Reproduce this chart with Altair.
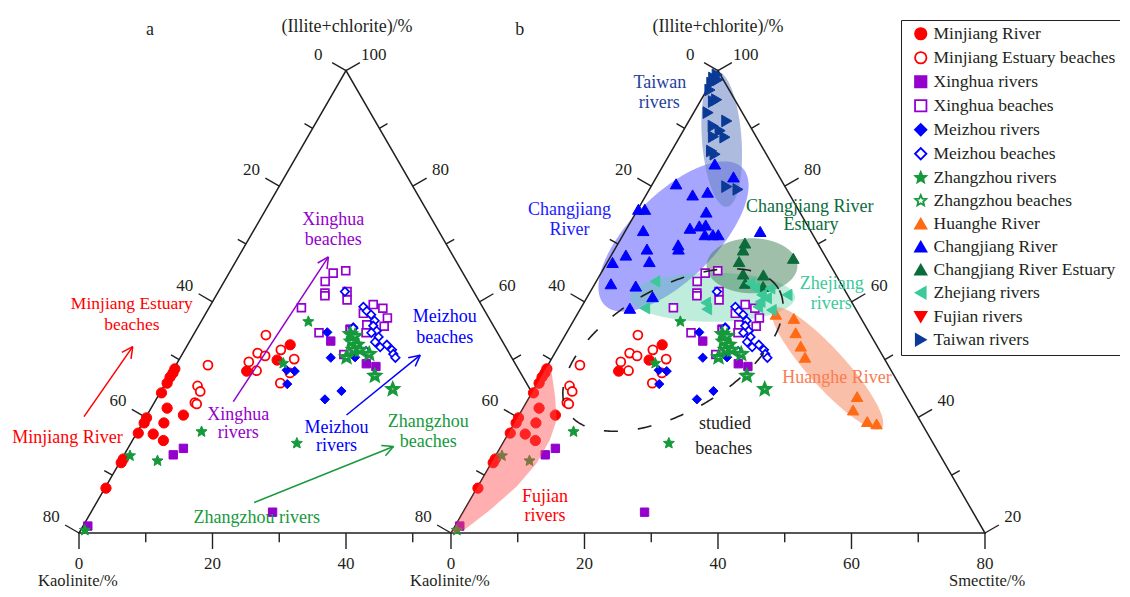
import math
import numpy as np
import pandas as pd
import altair as alt

# ------------------------------------------------------------------
# Values.
# Every sample is (illite+chlorite %, smectite %); kaolinite % = 100 - both.
# ------------------------------------------------------------------
minjiang_river = [
    (35.5, 0.2), (34.6, 0.3), (33.7, 0.2), (32.4, 0.3), (30.3, 0.3), (27.0, 3.0),
    (25.5, 6.8), (24.9, 0.2), (23.8, 0.3), (23.8, 4.0), (21.6, 0.3), (21.4, 3.2),
    (20.0, 5.8), (16.0, 0.3), (15.2, 0.3), (9.7, 0.2), (40.7, 19.2), (37.4, 18.4),
    (35.0, 13.9)]
minjiang_estuary_beaches = [
    (36.3, 6.0), (31.8, 6.3), (30.6, 7.4), (28.2, 7.6), (27.9, 8.1), (42.8, 13.6),
    (37.0, 13.3), (38.9, 14.0), (35.1, 15.7), (38.3, 15.7), (39.6, 18.0), (37.6, 21.5),
    (32.4, 21.5), (34.6, 22.2)]
xinghua_rivers = [
    (1.5, 0.9), (16.9, 9.2), (18.3, 10.4), (4.5, 34.0), (41.5, 26.4), (44.1, 28.7),
    (36.6, 35.5), (36.0, 37.6)]
xinghua_beaches = [
    (56.7, 21.6), (56.2, 19.5), (54.4, 18.9), (51.9, 20.1), (51.3, 20.4), (52.2, 24.1),
    (50.4, 25.0), (48.7, 17.3), (43.3, 23.3), (49.4, 30.4), (48.6, 32.6), (46.5, 34.5),
    (44.7, 34.8), (47.5, 29.5), (45.0, 31.4), (43.3, 32.1), (38.6, 30.3), (43.9, 28.9)]
meizhou_rivers = [
    (43.4, 24.8), (44.5, 29.1), (37.9, 28.2), (38.0, 32.7), (35.2, 21.3), (35.0, 22.9),
    (32.2, 22.9), (30.7, 33.8), (28.9, 31.6)]
meizhou_beaches = [
    (52.2, 23.7), (48.9, 28.8), (48.0, 29.9), (47.2, 31.1), (45.9, 32.4), (44.8, 32.7),
    (43.7, 33.9), (43.3, 33.1), (42.4, 34.9), (41.3, 34.8), (40.2, 36.3), (40.7, 37.3),
    (39.6, 38.8), (38.7, 39.5), (37.9, 40.3), (39.3, 34.1), (44.3, 29.2)]
zhangzhou_rivers = [
    (0.6, 0.8), (16.7, 1.2), (15.6, 6.9), (21.9, 12.0), (19.4, 31.1), (45.7, 20.1),
    (36.7, 19.9)]
zhangzhou_beaches = [
    (43.0, 29.3), (42.6, 30.4), (40.7, 31.7), (39.6, 31.6), (38.0, 31.1), (39.6, 32.8),
    (38.7, 35.0), (34.0, 38.4), (31.1, 43.2), (41.4, 30.3)]
huanghe_river = [
    (47.3, 37.2), (46.4, 41.0), (43.3, 42.9), (40.4, 45.3), (38.0, 47.3), (29.5, 61.3),
    (26.6, 62.0), (24.1, 65.9), (23.6, 67.9)]
changjiang_river = [
    (79.8, 9.5), (77.0, 14.4), (75.5, 4.4), (73.1, 8.7), (73.7, 11.2), (70.0, 0.1),
    (70.0, 1.3), (69.4, 13.1), (65.9, 11.8), (66.4, 13.3), (66.6, 14.4), (65.4, 3.3),
    (64.5, 15.3), (64.5, 16.8), (64.5, 17.8), (65.2, 25.3), (62.3, 11.4), (61.4, 11.9),
    (61.4, 6.0), (60.1, 2.7), (58.7, 7.8), (58.5, 1.0), (53.9, 3.0), (53.4, 7.9),
    (51.1, 12.2), (48.6, 9.2)]
changjiang_estuary = [
    (62.7, 23.7), (61.2, 24.1), (58.7, 24.6), (59.4, 34.4), (56.0, 26.7), (54.0, 28.1),
    (55.8, 30.6), (53.3, 31.8)]
zhejiang_rivers = [
    (54.4, 11.0), (48.6, 12.0), (49.8, 22.8), (48.4, 23.7), (54.0, 29.0), (51.5, 32.4),
    (50.8, 33.7), (50.0, 32.9), (48.2, 35.9), (51.5, 37.2), (52.9, 33.3), (48.9, 33.0),
    (53.0, 30.4)]
fujian_rivers = []
taiwan_rivers = [
    (99.1, 0.3), (98.4, 0.0), (98.0, 1.0), (97.3, 0.2), (95.8, 0.6), (93.7, 2.9),
    (93.3, 2.5), (90.9, 2.7), (89.1, 7.1), (88.0, 5.1), (87.0, 6.9), (85.7, 6.3),
    (85.6, 8.5), (82.6, 7.5), (81.9, 8.5), (74.9, 14.2), (74.3, 16.6)]

series_names = [
    "Minjiang River", "Minjiang Estuary beaches", "Xinghua rivers", "Xinghua beaches",
    "Meizhou rivers", "Meizhou beaches", "Zhangzhou rivers", "Zhangzhou beaches",
    "Huanghe River", "Changjiang River", "Changjiang River Estuary", "Zhejiang rivers",
    "Fujian rivers", "Taiwan rivers"]
series_values = [
    minjiang_river, minjiang_estuary_beaches, xinghua_rivers, xinghua_beaches,
    meizhou_rivers, meizhou_beaches, zhangzhou_rivers, zhangzhou_beaches,
    huanghe_river, changjiang_river, changjiang_estuary, zhejiang_rivers,
    fujian_rivers, taiwan_rivers]
# the Fujian coastal sets (first eight) are drawn in both panels a and b
in_both_panels = series_names[:8]

# tick labels as printed on the figure
left_side_labels = ["0", "20", "40", "60", "80"]
right_side_labels = ["100", "80", "60", "40", "20"]
bottom_labels = ["0", "20", "40", "60", "80"]

# ------------------------------------------------------------------
# Layout and style
# ------------------------------------------------------------------
FONT = "Liberation Serif"
INK = "#231f20"
H3 = math.sqrt(3) / 2
HT = 100 * H3            # triangle height (side = 100)
OFF = 69.66              # horizontal offset of panel b
PX = 5.34                # pixels per unit
W, HH = 1112, 581
x0 = (8 - 79) / PX
ytop = (533 - 8) / PX
XS = alt.Scale(domain=[x0, x0 + W / PX], nice=False, zero=False)
YS = alt.Scale(domain=[ytop - HH / PX, ytop], nice=False, zero=False)

RED, PUR, BLU, GRN = "#ff0000", "#9400cc", "#0000ff", "#16993b"
ORG, DGR, TEA, NAV = "#ff6a13", "#0b6b3b", "#3cc99a", "#0a3a96"

star_pts = []
for i in range(10):
    a = math.radians(-90 + 36 * i)
    r = 1.0 if i % 2 == 0 else 0.45
    star_pts.append(f"{r * math.cos(a):.3f},{r * math.sin(a):.3f}")
STAR = "M" + " L".join(star_pts) + " Z"

shapes = ["circle", "circle", "square", "square", "diamond", "diamond", STAR, STAR,
          "triangle-up", "triangle-up", "triangle-up", "triangle-left",
          "triangle-down", "triangle-right"]
fills = [RED, "#ffffff", PUR, "#ffffff", BLU, "#ffffff", GRN, "#ffffff",
         ORG, BLU, DGR, TEA, RED, NAV]
strokes = [RED, RED, PUR, PUR, BLU, BLU, GRN, GRN, ORG, BLU, DGR, TEA, RED, NAV]
sizes = [105, 80, 70, 62, 85, 72, 135, 105, 130, 135, 135, 125, 130, 135]
widths = [1, 1.8, 1, 1.7, 1, 1.7, 1, 3.2, 1, 1, 1, 1, 1, 1]

rows = []
for name, vals, sz, sw in zip(series_names, series_values, sizes, widths):
    offs = [0.0, OFF] if name in in_both_panels else [OFF]
    for ic, sm in vals:
        for off in offs:
            rows.append(dict(series=name, ic=ic, sm=sm, ka=round(100 - ic - sm, 1),
                             x=off + sm + ic / 2, y=ic * H3, sz=sz, sw=sw))
pts = pd.DataFrame(rows)


def X(f="x"):
    return alt.X(f"{f}:Q", scale=XS, axis=None)


def Y(f="y"):
    return alt.Y(f"{f}:Q", scale=YS, axis=None)


# ---------------- frame ----------------
t_cut = OFF / 100
frame_path = [(50 + 50 * t_cut, HT * (1 - t_cut)), (50, HT), (0, 0), (OFF + 100, 0),
              (OFF + 50, HT), (OFF, 0)]
frame_df = pd.DataFrame([dict(x=p[0], y=p[1], i=i) for i, p in enumerate(frame_path)])
frame = alt.Chart(frame_df).mark_line(color=INK, strokeWidth=1.5, strokeJoin="miter").encode(
    x=X(), y=Y(), order="i:Q")

ticks, texts = [], []
NL = (-H3, 0.5)
NR = (H3, 0.5)
for panel, off in (("a", 0.0), ("b", OFF)):
    for k in range(9):
        f = k / 8
        major = k % 2 == 0
        L = 3.0 if major else 1.75
        # left side
        bx, by = off + 50 - 50 * f, HT - HT * f
        ticks.append(dict(x=bx, y=by, x2=bx + NL[0] * L, y2=by + NL[1] * L))
        if major:
            texts.append(dict(x=bx + NL[0] * 6, y=by + NL[1] * 6, text=left_side_labels[k // 2],
                              col=INK, fs=17))
        # right side
        if panel == "b" or f <= t_cut:
            bx, by = off + 50 + 50 * f, HT - HT * f
            ticks.append(dict(x=bx, y=by, x2=bx + NR[0] * L, y2=by + NR[1] * L))
            if major:
                texts.append(dict(x=bx + NR[0] * 6, y=by + NR[1] * 6,
                                  text=right_side_labels[k // 2], col=INK, fs=17))
        # bottom
        if panel == "b" or 100 * f < OFF:
            bx = off + 100 * f
            ticks.append(dict(x=bx, y=0, x2=bx, y2=-L))
            if major:
                texts.append(dict(x=bx, y=-5.8, text=bottom_labels[k // 2], col=INK, fs=17))

tick_layer = alt.Chart(pd.DataFrame(ticks)).mark_rule(color=INK, strokeWidth=1.4).encode(
    x=X(), y=Y(), x2="x2:Q", y2="y2:Q")

# ---------------- annotation text ----------------
titles = [
    ("a", 13.3, 94.2, "a", INK, 18), ("b", 12.9, 94.2, "b", INK, 18),
    ("a", 50.2, 94.7, "(Illite+chlorite)/%", INK, 18),
    ("b", 50.0, 94.7, "(Illite+chlorite)/%", INK, 18),
    ("a", -0.2, -8.95, "Kaolinite/%", INK, 16.5), ("b", -0.2, -8.95, "Kaolinite/%", INK, 16.5),
    ("b", 100.4, -8.95, "Smectite/%", INK, 16.5),
    ("a", 9.9, 42.95, "Minjiang Estuary", RED, 17.5), ("a", 9.9, 39.0, "beaches", RED, 17.5),
    ("a", -2.15, 17.8, "Minjiang River", RED, 18),
    ("a", 47.6, 58.6, "Xinghua", PUR, 18), ("a", 47.6, 54.9, "beaches", PUR, 18),
    ("a", 29.8, 22.1, "Xinghua", PUR, 18), ("a", 29.8, 18.7, "rivers", PUR, 18),
    ("a", 68.5, 40.5, "Meizhou", BLU, 18), ("a", 68.5, 36.5, "beaches", BLU, 18),
    ("a", 48.2, 19.6, "Meizhou", BLU, 18), ("a", 48.2, 16.2, "rivers", BLU, 18),
    ("a", 65.4, 20.8, "Zhangzhou", GRN, 18), ("a", 65.4, 17.1, "beaches", GRN, 18),
    ("a", 33.3, 2.75, "Zhangzhou rivers", GRN, 18),
    ("b", 39.1, 84.2, "Taiwan", "#1f3f9f", 18), ("b", 39.0, 80.5, "rivers", "#1f3f9f", 18),
    ("b", 22.2, 60.5, "Changjiang", "#1a1aff", 18), ("b", 22.2, 56.7, "River", "#1a1aff", 18),
    ("b", 67.2, 61.1, "Changjiang River", DGR, 18), ("b", 67.4, 57.7, "Estuary", DGR, 18),
    ("b", 71.3, 46.6, "Zhejiang", TEA, 18), ("b", 71.2, 42.9, "rivers", TEA, 18),
    ("b", 72.3, 29.0, "Huanghe River", "#f97c52", 18),
    ("b", 51.3, 20.4, "studied", INK, 18), ("b", 51.1, 15.7, "beaches", INK, 18),
    ("b", 17.6, 6.7, "Fujian", RED, 18), ("b", 17.6, 3.1, "rivers", RED, 18),
]
for panel, ux, uy, t, c, fs in titles:
    texts.append(dict(x=ux + (OFF if panel == "b" else 0), y=uy, text=t, col=c, fs=fs))
text_layer = alt.Chart(pd.DataFrame(texts)).mark_text(
    font=FONT, baseline="middle", align="center").encode(
    x=X(), y=Y(), text="text:N", color=alt.Color("col:N", scale=None),
    size=alt.Size("fs:Q", scale=None))

# ---------------- arrows (panel a) ----------------
arrows = [((0.94, 21.8), (10.06, 34.9), RED), ((28.9, 24.6), (46.7, 51.7), PUR),
          ((50.1, 22.1), (63.9, 33.3), BLU), ((32.8, 5.7), (58.9, 16.2), GRN)]
arr = []
for (x1, y1), (x2, y2), c in arrows:
    arr.append(dict(x=x1, y=y1, x2=x2, y2=y2, col=c))
    d = math.atan2(y2 - y1, x2 - x1)
    for s in (1, -1):
        a = d + math.pi - s * math.radians(27)
        arr.append(dict(x=x2, y=y2, x2=x2 + 2.3 * math.cos(a), y2=y2 + 2.3 * math.sin(a), col=c))
arrow_layer = alt.Chart(pd.DataFrame(arr)).mark_rule(strokeWidth=1.5).encode(
    x=X(), y=Y(), x2="x2:Q", y2="y2:Q", color=alt.Color("col:N", scale=None))

# ---------------- shaded regions (panel b) ----------------
regions = [  # centre x, centre y, semi-axes, angle, colour, opacity
    (41.67, 55.53, 18.2, 8.0, 45.0, "#4d4dff", 0.5),
    (48.97, 44.14, 15.45, 4.6, 0.0, "#5fd3a8", 0.4),
    (56.37, 50.04, 8.5, 5.15, 0.0, "#3f7f55", 0.5),
    (50.7, 73.75, 12.7, 3.7, 94.2, "#6a84c4", 0.55),
    (70.51, 30.84, 15.1, 3.5, -47.9, "#f58a62", 0.55),
]


def ellipse_chords(cx, cy, a, b, ang, n=240):
    th = math.radians(ang)
    c, s = math.cos(th), math.sin(th)
    hw = math.sqrt(a * a * c * c + b * b * s * s)
    xs = -hw * np.cos(np.linspace(0, math.pi, n))
    A = s * s / a ** 2 + c * c / b ** 2
    B = 2 * xs * c * s * (1 / a ** 2 - 1 / b ** 2)
    C = xs ** 2 * (c * c / a ** 2 + s * s / b ** 2) - 1
    disc = np.sqrt(np.clip(B * B - 4 * A * C, 0, None))
    return cx + xs, cy + (-B - disc) / (2 * A), cy + (-B + disc) / (2 * A)


region_layers = []
for cx, cy, a, b, ang, col, op in regions:
    xs, lo, hi = ellipse_chords(cx + OFF, cy, a, b, ang)
    df = pd.DataFrame(dict(x=xs, y=lo, y2=hi))
    region_layers.append(alt.Chart(df).mark_area(color=col, opacity=op).encode(
        x=X(), y=Y(), y2="y2:Q"))

fujian_zone = [(0.0, 0.0), (17.9, 31.0), (18.6, 31.8), (19.5, 25.5), (19.8, 21.2),
               (18.5, 17.4), (16.0, 13.0), (12.3, 8.7), (7.3, 4.3), (2.9, 0.9), (0.8, 0.0)]


def polygon_chords(poly, n=200):
    px = [p[0] for p in poly]
    xmin, xmax = min(px), max(px)
    xs = xmin + (xmax - xmin) * (1 - np.cos(np.linspace(0, math.pi, n))) / 2
    out = []
    m = len(poly)
    for xv in xs:
        ys = []
        for i in range(m):
            (ax, ay), (bx, by) = poly[i], poly[(i + 1) % m]
            if ax == bx:
                continue
            if min(ax, bx) - 1e-9 <= xv <= max(ax, bx) + 1e-9:
                ys.append(ay + (xv - ax) * (by - ay) / (bx - ax))
        if ys:
            out.append(dict(x=xv + OFF, y=min(ys), y2=max(ys)))
    return pd.DataFrame(out)


fujian_layer = alt.Chart(polygon_chords(fujian_zone)).mark_area(
    color="#ff4d4d", opacity=0.45).encode(x=X(), y=Y(), y2="y2:Q")

# dashed "studied beaches" outline
cx, cy, a, b, ang = 41.57 + OFF, 34.27, 22.85, 11.61, 30.0
tt = np.linspace(0, 2 * math.pi, 361)
th = math.radians(ang)
dash_df = pd.DataFrame(dict(
    x=cx + a * np.cos(tt) * math.cos(th) - b * np.sin(tt) * math.sin(th),
    y=cy + a * np.cos(tt) * math.sin(th) + b * np.sin(tt) * math.cos(th),
    i=np.arange(len(tt))))
dash_layer = alt.Chart(dash_df).mark_line(color=INK, strokeWidth=1.6, strokeDash=[14, 20]).encode(
    x=X(), y=Y(), order="i:Q")

# ---------------- points + legend ----------------
leg = alt.Legend(orient="none", legendX=893, legendY=12, title=None, direction="vertical",
                 labelFont=FONT, labelFontSize=17.5, labelColor=INK, labelLimit=400,
                 symbolSize=130, symbolStrokeWidth=1.8, rowPadding=4.0, padding=5,
                 strokeColor=INK, fillColor="white", labelOffset=4, symbolOffset=6)
point_layer = alt.Chart(pts).mark_point(opacity=1).encode(
    x=X(), y=Y(),
    shape=alt.Shape("series:N", scale=alt.Scale(domain=series_names, range=shapes), legend=leg),
    fill=alt.Fill("series:N", scale=alt.Scale(domain=series_names, range=fills), legend=leg),
    stroke=alt.Stroke("series:N", scale=alt.Scale(domain=series_names, range=strokes), legend=leg),
    size=alt.Size("sz:Q", scale=None),
    strokeWidth=alt.StrokeWidth("sw:Q", scale=None),
    tooltip=["series:N", "ic:Q", "sm:Q", "ka:Q"],
)

chart = alt.layer(
    *region_layers, frame, tick_layer, point_layer, fujian_layer, dash_layer,
    arrow_layer, text_layer
).properties(
    width=W, height=HH, padding=0, autosize=alt.AutoSizeParams(type="none")
).configure_view(stroke=None)

chart.save("out.html", embed_options={"renderer": "svg", "actions": False})
